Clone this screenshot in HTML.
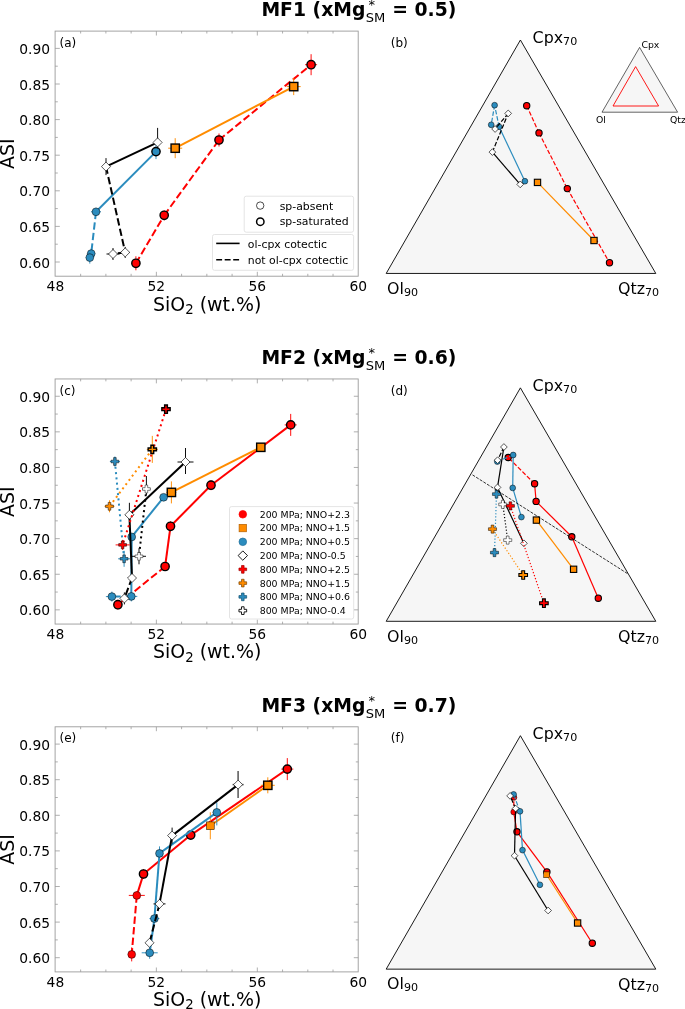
<!DOCTYPE html>
<html lang="en"><head><meta charset="utf-8"><title>MF1-MF3 ASI vs SiO2 and ternary projections</title>
<style>html,body{margin:0;padding:0;background:#fff}svg{display:block;will-change:transform}text{filter:grayscale(1)}text{font-family:"DejaVu Sans","Liberation Sans",sans-serif}</style>
</head><body>
<svg width="685" height="1009" viewBox="0 0 685 1009">
<rect width="685" height="1009" fill="#fff"/>
<g font-size="18.8" font-weight="bold" fill="#000">
<text x="365.4" y="16.3" text-anchor="end">MF1 (xMg</text>
<text x="456.3" y="16.3" text-anchor="end">= 0.5)</text>
</g>
<text x="365.7" y="22.1" font-size="13.07" fill="#000">SM</text>
<text x="368.6" y="9.1" font-size="13.07" fill="#000">*</text>
<rect x="55.1" y="31.1" width="303.1" height="245.1" fill="#fff" stroke="#9a9a9a" stroke-width="0.9"/>
<path d="M80.64 276.2v-2.4M80.64 31.1v2.4M105.88 276.2v-2.4M105.88 31.1v2.4M131.12 276.2v-2.4M131.12 31.1v2.4M156.36 276.2v-4.4M156.36 31.1v4.4M181.6 276.2v-2.4M181.6 31.1v2.4M206.84 276.2v-2.4M206.84 31.1v2.4M232.08 276.2v-2.4M232.08 31.1v2.4M257.32 276.2v-4.4M257.32 31.1v4.4M282.56 276.2v-2.4M282.56 31.1v2.4M307.8 276.2v-2.4M307.8 31.1v2.4M333.04 276.2v-2.4M333.04 31.1v2.4M55.1 262h4.7M55.1 244.2h2.6999999999999997M55.1 226.4h4.7M55.1 208.6h2.6999999999999997M55.1 190.8h4.7M55.1 173h2.6999999999999997M55.1 155.2h4.7M55.1 137.4h2.6999999999999997M55.1 119.6h4.7M55.1 101.8h2.6999999999999997M55.1 84h4.7M55.1 66.2h2.6999999999999997M55.1 48.4h4.7" stroke="#9a9a9a" stroke-width="0.8" fill="none"/>
<g font-size="13.85" fill="#000">
<text x="55.4" y="291.4" text-anchor="middle">48</text>
<text x="156.36" y="291.4" text-anchor="middle">52</text>
<text x="257.32" y="291.4" text-anchor="middle">56</text>
<text x="358.28" y="291.4" text-anchor="middle">60</text>
<text x="50.1" y="267.5" text-anchor="end">0.60</text>
<text x="50.1" y="231.9" text-anchor="end">0.65</text>
<text x="50.1" y="196.3" text-anchor="end">0.70</text>
<text x="50.1" y="160.7" text-anchor="end">0.75</text>
<text x="50.1" y="125.1" text-anchor="end">0.80</text>
<text x="50.1" y="89.5" text-anchor="end">0.85</text>
<text x="50.1" y="53.9" text-anchor="end">0.90</text>
</g>
<text x="207.2" y="310.5" font-size="18.95" text-anchor="middle" fill="#000">SiO<tspan font-size="13.27" dy="3.2">2</tspan><tspan dy="-3.2"> (wt.%)</tspan></text>
<text transform="translate(14.3 153.75) rotate(-90)" font-size="18.95" text-anchor="middle" fill="#000">ASI</text>
<text x="59.5" y="46.7" font-size="12" fill="#000">(a)</text>
<g id="pa">
<path d="M135.9 263.3L164.2 215.3" fill="none" stroke="#ff0000" stroke-width="2.0" stroke-dasharray="7.4 3.2"/><path d="M164.2 215.3L219 140" fill="none" stroke="#ff0000" stroke-width="2.0" stroke-dasharray="7.4 3.2"/><path d="M219 140L311.1 64.7" fill="none" stroke="#ff0000" stroke-width="2.0" stroke-dasharray="7.4 3.2"/><path d="M132.9 263.3H138.9" stroke="#ff0000" stroke-width="0.95"/><path d="M135.9 256.3V270.3" stroke="#ff0000" stroke-width="0.95"/><path d="M161.2 215.3H167.2" stroke="#ff0000" stroke-width="0.95"/><path d="M164.2 210.3V220.3" stroke="#ff0000" stroke-width="0.95"/><path d="M216 140H222" stroke="#ff0000" stroke-width="0.95"/><path d="M219 133.5V146.5" stroke="#ff0000" stroke-width="0.95"/><path d="M305.1 64.7H317.1" stroke="#ff0000" stroke-width="0.95"/><path d="M311.1 54.2V75.2" stroke="#ff0000" stroke-width="0.95"/><circle cx="135.9" cy="263.3" r="4.15" fill="#ff0000" stroke="#000000" stroke-width="1.4"/><circle cx="164.2" cy="215.3" r="4.15" fill="#ff0000" stroke="#000000" stroke-width="1.4"/><circle cx="219" cy="140" r="4.15" fill="#ff0000" stroke="#000000" stroke-width="1.4"/><circle cx="311.1" cy="64.7" r="4.15" fill="#ff0000" stroke="#000000" stroke-width="1.4"/>
<path d="M175.2 148.2L293.7 86.6" fill="none" stroke="#ff8c00" stroke-width="2.0"/><path d="M168.2 148.2H182.2" stroke="#ff8c00" stroke-width="0.95"/><path d="M175.2 138.2V158.2" stroke="#ff8c00" stroke-width="0.95"/><path d="M286.7 86.6H300.7" stroke="#ff8c00" stroke-width="0.95"/><path d="M293.7 78.1V95.1" stroke="#ff8c00" stroke-width="0.95"/><rect x="171.05" y="144.05" width="8.3" height="8.3" fill="#ff8c00" stroke="#000000" stroke-width="1.4"/><rect x="289.55" y="82.45" width="8.3" height="8.3" fill="#ff8c00" stroke="#000000" stroke-width="1.4"/>
<path d="M156 151.6L96 211.8" fill="none" stroke="#2b8cbe" stroke-width="2.0"/><path d="M96 211.8L91.2 253.6" fill="none" stroke="#2b8cbe" stroke-width="2.0" stroke-dasharray="7.4 3.2"/><path d="M91.2 253.6L89.8 257.6" fill="none" stroke="#2b8cbe" stroke-width="2.0" stroke-dasharray="7.4 3.2"/><path d="M156 144.1V159.1" stroke="#2b8cbe" stroke-width="0.95"/><path d="M91 211.8H101" stroke="#2b8cbe" stroke-width="0.95"/><path d="M96 207.8V215.8" stroke="#2b8cbe" stroke-width="0.95"/><path d="M87.2 253.6H95.2" stroke="#2b8cbe" stroke-width="0.95"/><path d="M91.2 248.6V258.6" stroke="#2b8cbe" stroke-width="0.95"/><path d="M85.8 257.6H93.8" stroke="#2b8cbe" stroke-width="0.95"/><path d="M89.8 251.6V263.6" stroke="#2b8cbe" stroke-width="0.95"/><circle cx="156" cy="151.6" r="4.15" fill="#2b8cbe" stroke="#000000" stroke-width="1.4"/><circle cx="96" cy="211.8" r="3.9" fill="#2b8cbe" stroke="#000000" stroke-width="0.5"/><circle cx="91.2" cy="253.6" r="3.9" fill="#2b8cbe" stroke="#000000" stroke-width="0.5"/><circle cx="89.8" cy="257.6" r="3.9" fill="#2b8cbe" stroke="#000000" stroke-width="0.5"/>
<path d="M157.6 142.4L106 166.6" fill="none" stroke="#000000" stroke-width="2.0"/><path d="M106 166.6L125.2 252.4" fill="none" stroke="#000000" stroke-width="2.0" stroke-dasharray="7.4 3.2"/><path d="M125.2 252.4L113 254" fill="none" stroke="#000000" stroke-width="2.0" stroke-dasharray="7.4 3.2"/><path d="M157.6 127.9V148.4" stroke="#000000" stroke-width="0.95"/><path d="M106 158.1V175.1" stroke="#000000" stroke-width="0.95"/><path d="M120.7 252.4H129.7" stroke="#000000" stroke-width="0.95"/><path d="M125.2 246.9V257.9" stroke="#000000" stroke-width="0.95"/><path d="M106.5 254H119.5" stroke="#000000" stroke-width="0.95"/><path d="M113 248V260" stroke="#000000" stroke-width="0.95"/><path d="M157.6 137.88L162.12 142.4L157.6 146.92L153.08 142.4Z" fill="#ffffff" stroke="#000000" stroke-width="0.65" stroke-linejoin="miter"/><path d="M106 162.08L110.52 166.6L106 171.12L101.48 166.6Z" fill="#ffffff" stroke="#000000" stroke-width="0.65" stroke-linejoin="miter"/><path d="M125.2 247.88L129.72 252.4L125.2 256.92L120.68 252.4Z" fill="#ffffff" stroke="#000000" stroke-width="0.65" stroke-linejoin="miter"/><path d="M113 249.48L117.52 254L113 258.52L108.48 254Z" fill="#ffffff" stroke="#000000" stroke-width="0.65" stroke-linejoin="miter"/>
</g>
<g id="lega" font-size="10.88" fill="#000">
<rect x="244.2" y="196.2" width="109.4" height="36" rx="2" fill="#fff" fill-opacity="0.8" stroke="#ddd" stroke-width="0.8"/>
<circle cx="260.2" cy="205.6" r="3.7" fill="#fff" stroke="#000" stroke-width="0.7"/>
<circle cx="260.3" cy="221.7" r="3.7" fill="#fff" stroke="#000" stroke-width="1.5"/>
<text x="279.7" y="209.5">sp-absent</text>
<text x="279.7" y="225.4">sp-saturated</text>
<rect x="212.5" y="234.5" width="141.1" height="35.8" rx="2" fill="#fff" fill-opacity="0.8" stroke="#ddd" stroke-width="0.8"/>
<path d="M216.2 243.4H239.6" stroke="#000" stroke-width="1.6"/>
<path d="M216.2 259.7H239.6" stroke="#000" stroke-width="1.6" stroke-dasharray="5.9 2.6"/>
<text x="247.8" y="247.5">ol-cpx cotectic</text>
<text x="247.8" y="263.5">not ol-cpx cotectic</text>
</g>
<path d="M386.2 273.45L520.4 40L655.8 273.45Z" fill="#f6f6f6" stroke="#000" stroke-width="0.9" stroke-linejoin="miter"/>
<text x="390.8" y="46.7" font-size="12" fill="#000">(b)</text>
<g font-size="15.85" fill="#000">
<text x="532.6" y="43.2">Cpx<tspan font-size="11.1" dy="2.1">70</tspan></text>
<text x="387.0" y="293.7">Ol<tspan font-size="11.1" dy="2.0">90</tspan></text>
<text x="618.0" y="293.8">Qtz<tspan font-size="11.1" dy="2.0">70</tspan></text>
</g>
<g id="inset">
<path d="M602 112.2L639.6 47.4L677.6 112.2Z" fill="#f6f6f6" stroke="#222" stroke-width="0.7"/>
<path d="M613 106L635.6 66.6L658.6 106Z" fill="none" stroke="#f00" stroke-width="0.9"/>
<g font-size="9.3" fill="#000"><text x="641.4" y="48">Cpx</text><text x="596" y="123">Ol</text><text x="670" y="123">Qtz</text></g>
</g>
<g id="pb">
<path d="M526.7 105.7L539 132.9" fill="none" stroke="#ff0000" stroke-width="1.2" stroke-dasharray="4.44 1.92"/><path d="M539 132.9L567.3 188.6" fill="none" stroke="#ff0000" stroke-width="1.2" stroke-dasharray="4.44 1.92"/><path d="M567.3 188.6L609.5 262.7" fill="none" stroke="#ff0000" stroke-width="1.2" stroke-dasharray="4.44 1.92"/><circle cx="526.7" cy="105.7" r="3.15" fill="#ff0000" stroke="#000000" stroke-width="1.1"/><circle cx="539" cy="132.9" r="3.15" fill="#ff0000" stroke="#000000" stroke-width="1.1"/><circle cx="567.3" cy="188.6" r="3.15" fill="#ff0000" stroke="#000000" stroke-width="1.1"/><circle cx="609.5" cy="262.7" r="3.15" fill="#ff0000" stroke="#000000" stroke-width="1.1"/>
<path d="M537.5 182.4L594 240.5" fill="none" stroke="#ff8c00" stroke-width="1.2"/><rect x="534.35" y="179.25" width="6.3" height="6.3" fill="#ff8c00" stroke="#000000" stroke-width="1.1"/><rect x="590.85" y="237.35" width="6.3" height="6.3" fill="#ff8c00" stroke="#000000" stroke-width="1.1"/>
<path d="M524.9 181.2L499.1 126.8" fill="none" stroke="#2b8cbe" stroke-width="1.2"/><path d="M499.1 126.8L494.6 105.2" fill="none" stroke="#2b8cbe" stroke-width="1.2" stroke-dasharray="4.44 1.92"/><path d="M494.6 105.2L491.2 124.8" fill="none" stroke="#2b8cbe" stroke-width="1.2" stroke-dasharray="4.44 1.92"/><circle cx="524.9" cy="181.2" r="2.9" fill="#2b8cbe" stroke="#000000" stroke-width="0.5"/><circle cx="499.1" cy="126.8" r="2.9" fill="#2b8cbe" stroke="#000000" stroke-width="0.5"/><circle cx="494.6" cy="105.2" r="2.9" fill="#2b8cbe" stroke="#000000" stroke-width="0.5"/><circle cx="491.2" cy="124.8" r="2.9" fill="#2b8cbe" stroke="#000000" stroke-width="0.5"/>
<path d="M520.2 184.4L492.4 152.1" fill="none" stroke="#000000" stroke-width="1.2"/><path d="M492.4 152.1L508.2 113.4" fill="none" stroke="#000000" stroke-width="1.2" stroke-dasharray="4.44 1.92"/><path d="M508.2 113.4L495.1 129" fill="none" stroke="#000000" stroke-width="1.2" stroke-dasharray="4.44 1.92"/><path d="M520.2 181.04L523.56 184.4L520.2 187.76L516.84 184.4Z" fill="#ffffff" stroke="#000000" stroke-width="0.65" stroke-linejoin="miter"/><path d="M492.4 148.74L495.76 152.1L492.4 155.46L489.04 152.1Z" fill="#ffffff" stroke="#000000" stroke-width="0.65" stroke-linejoin="miter"/><path d="M508.2 110.04L511.56 113.4L508.2 116.76L504.84 113.4Z" fill="#ffffff" stroke="#000000" stroke-width="0.65" stroke-linejoin="miter"/><path d="M495.1 125.64L498.46 129L495.1 132.36L491.74 129Z" fill="#ffffff" stroke="#000000" stroke-width="0.65" stroke-linejoin="miter"/>
</g>
<g font-size="18.8" font-weight="bold" fill="#000">
<text x="365.4" y="364.15" text-anchor="end">MF2 (xMg</text>
<text x="456.3" y="364.15" text-anchor="end">= 0.6)</text>
</g>
<text x="365.7" y="369.95" font-size="13.07" fill="#000">SM</text>
<text x="368.6" y="356.95" font-size="13.07" fill="#000">*</text>
<rect x="55.1" y="378.95" width="303.1" height="245.1" fill="#fff" stroke="#9a9a9a" stroke-width="0.9"/>
<path d="M80.64 624.05v-2.4M80.64 378.95v2.4M105.88 624.05v-2.4M105.88 378.95v2.4M131.12 624.05v-2.4M131.12 378.95v2.4M156.36 624.05v-4.4M156.36 378.95v4.4M181.6 624.05v-2.4M181.6 378.95v2.4M206.84 624.05v-2.4M206.84 378.95v2.4M232.08 624.05v-2.4M232.08 378.95v2.4M257.32 624.05v-4.4M257.32 378.95v4.4M282.56 624.05v-2.4M282.56 378.95v2.4M307.8 624.05v-2.4M307.8 378.95v2.4M333.04 624.05v-2.4M333.04 378.95v2.4M55.1 609.85h4.7M358.2 609.85h-4.4M55.1 592.05h2.6999999999999997M358.2 592.05h-2.4M55.1 574.25h4.7M358.2 574.25h-4.4M55.1 556.45h2.6999999999999997M358.2 556.45h-2.4M55.1 538.65h4.7M358.2 538.65h-4.4M55.1 520.85h2.6999999999999997M358.2 520.85h-2.4M55.1 503.05h4.7M358.2 503.05h-4.4M55.1 485.25h2.6999999999999997M358.2 485.25h-2.4M55.1 467.45h4.7M358.2 467.45h-4.4M55.1 449.65h2.6999999999999997M358.2 449.65h-2.4M55.1 431.85h4.7M358.2 431.85h-4.4M55.1 414.05h2.6999999999999997M358.2 414.05h-2.4M55.1 396.25h4.7M358.2 396.25h-4.4" stroke="#9a9a9a" stroke-width="0.8" fill="none"/>
<g font-size="13.85" fill="#000">
<text x="55.4" y="639.25" text-anchor="middle">48</text>
<text x="156.36" y="639.25" text-anchor="middle">52</text>
<text x="257.32" y="639.25" text-anchor="middle">56</text>
<text x="358.28" y="639.25" text-anchor="middle">60</text>
<text x="50.1" y="615.35" text-anchor="end">0.60</text>
<text x="50.1" y="579.75" text-anchor="end">0.65</text>
<text x="50.1" y="544.15" text-anchor="end">0.70</text>
<text x="50.1" y="508.55" text-anchor="end">0.75</text>
<text x="50.1" y="472.95" text-anchor="end">0.80</text>
<text x="50.1" y="437.35" text-anchor="end">0.85</text>
<text x="50.1" y="401.75" text-anchor="end">0.90</text>
</g>
<text x="207.2" y="658.35" font-size="18.95" text-anchor="middle" fill="#000">SiO<tspan font-size="13.27" dy="3.2">2</tspan><tspan dy="-3.2"> (wt.%)</tspan></text>
<text transform="translate(14.3 501.6) rotate(-90)" font-size="18.95" text-anchor="middle" fill="#000">ASI</text>
<text x="59.5" y="394.55" font-size="12" fill="#000">(c)</text>
<g id="pc">
<path d="M290.7 424.9L211 485.2" fill="none" stroke="#ff0000" stroke-width="2.0"/><path d="M211 485.2L170.5 526.3" fill="none" stroke="#ff0000" stroke-width="2.0"/><path d="M170.5 526.3L165.1 566.5" fill="none" stroke="#ff0000" stroke-width="2.0"/><path d="M165.1 566.5L117.9 604.7" fill="none" stroke="#ff0000" stroke-width="2.0" stroke-dasharray="7.4 3.2"/><path d="M284.7 424.9H296.7" stroke="#ff0000" stroke-width="0.95"/><path d="M290.7 413.9V435.9" stroke="#ff0000" stroke-width="0.95"/><path d="M208 485.2H214" stroke="#ff0000" stroke-width="0.95"/><path d="M211 480.2V490.2" stroke="#ff0000" stroke-width="0.95"/><path d="M167.5 526.3H173.5" stroke="#ff0000" stroke-width="0.95"/><path d="M170.5 521.3V531.3" stroke="#ff0000" stroke-width="0.95"/><path d="M162.1 566.5H168.1" stroke="#ff0000" stroke-width="0.95"/><path d="M165.1 562.5V570.5" stroke="#ff0000" stroke-width="0.95"/><path d="M114.9 604.7H120.9" stroke="#ff0000" stroke-width="0.95"/><path d="M117.9 599.7V609.7" stroke="#ff0000" stroke-width="0.95"/><circle cx="290.7" cy="424.9" r="4.15" fill="#ff0000" stroke="#000000" stroke-width="1.4"/><circle cx="211" cy="485.2" r="4.15" fill="#ff0000" stroke="#000000" stroke-width="1.4"/><circle cx="170.5" cy="526.3" r="4.15" fill="#ff0000" stroke="#000000" stroke-width="1.4"/><circle cx="165.1" cy="566.5" r="4.15" fill="#ff0000" stroke="#000000" stroke-width="1.4"/><circle cx="117.9" cy="604.7" r="4.15" fill="#ff0000" stroke="#000000" stroke-width="1.4"/>
<path d="M260.8 447.3L171.4 492.4" fill="none" stroke="#ff8c00" stroke-width="2.0"/><path d="M256.8 447.3H264.8" stroke="#ff8c00" stroke-width="0.95"/><path d="M260.8 443.3V451.3" stroke="#ff8c00" stroke-width="0.95"/><path d="M166.4 492.4H176.4" stroke="#ff8c00" stroke-width="0.95"/><path d="M171.4 481.4V503.4" stroke="#ff8c00" stroke-width="0.95"/><rect x="256.65" y="443.15" width="8.3" height="8.3" fill="#ff8c00" stroke="#000000" stroke-width="1.4"/><rect x="167.25" y="488.25" width="8.3" height="8.3" fill="#ff8c00" stroke="#000000" stroke-width="1.4"/>
<path d="M163.6 497.3L131.7 536.9" fill="none" stroke="#2b8cbe" stroke-width="2.0"/><path d="M131.7 536.9L131.3 596.4" fill="none" stroke="#2b8cbe" stroke-width="2.0"/><path d="M131.3 596.4L111.9 596.6" fill="none" stroke="#2b8cbe" stroke-width="2.0" stroke-dasharray="7.4 3.2"/><path d="M160.6 497.3H166.6" stroke="#2b8cbe" stroke-width="0.95"/><path d="M163.6 494.3V500.3" stroke="#2b8cbe" stroke-width="0.95"/><path d="M128.7 536.9H134.7" stroke="#2b8cbe" stroke-width="0.95"/><path d="M131.7 533.9V539.9" stroke="#2b8cbe" stroke-width="0.95"/><path d="M125.3 596.4H137.3" stroke="#2b8cbe" stroke-width="0.95"/><path d="M131.3 591.4V601.4" stroke="#2b8cbe" stroke-width="0.95"/><path d="M105.9 596.6H117.9" stroke="#2b8cbe" stroke-width="0.95"/><path d="M111.9 591.6V601.6" stroke="#2b8cbe" stroke-width="0.95"/><circle cx="163.6" cy="497.3" r="3.9" fill="#2b8cbe" stroke="#000000" stroke-width="0.5"/><circle cx="131.7" cy="536.9" r="3.9" fill="#2b8cbe" stroke="#000000" stroke-width="0.5"/><circle cx="131.3" cy="596.4" r="3.9" fill="#2b8cbe" stroke="#000000" stroke-width="0.5"/><circle cx="111.9" cy="596.6" r="3.9" fill="#2b8cbe" stroke="#000000" stroke-width="0.5"/>
<path d="M185.5 462L129.4 514.8" fill="none" stroke="#000000" stroke-width="2.0"/><path d="M129.4 514.8L132 578" fill="none" stroke="#000000" stroke-width="2.0"/><path d="M132 578L124.4 598.4" fill="none" stroke="#000000" stroke-width="2.0" stroke-dasharray="7.4 3.2"/><path d="M177.5 462H193.5" stroke="#000000" stroke-width="0.95"/><path d="M185.5 448V474" stroke="#000000" stroke-width="0.95"/><path d="M125.4 514.8H133.4" stroke="#000000" stroke-width="0.95"/><path d="M129.4 502.8V519.8" stroke="#000000" stroke-width="0.95"/><path d="M129 578H135" stroke="#000000" stroke-width="0.95"/><path d="M132 575V581" stroke="#000000" stroke-width="0.95"/><path d="M120.4 598.4H128.4" stroke="#000000" stroke-width="0.95"/><path d="M124.4 592.4V604.4" stroke="#000000" stroke-width="0.95"/><path d="M185.5 457.48L190.02 462L185.5 466.52L180.98 462Z" fill="#ffffff" stroke="#000000" stroke-width="0.65" stroke-linejoin="miter"/><path d="M129.4 510.28L133.92 514.8L129.4 519.32L124.88 514.8Z" fill="#ffffff" stroke="#000000" stroke-width="0.65" stroke-linejoin="miter"/><path d="M132 573.48L136.52 578L132 582.52L127.48 578Z" fill="#ffffff" stroke="#000000" stroke-width="0.65" stroke-linejoin="miter"/><path d="M124.4 593.88L128.92 598.4L124.4 602.92L119.88 598.4Z" fill="#ffffff" stroke="#000000" stroke-width="0.65" stroke-linejoin="miter"/>
<path d="M114.9 461.5L124.1 558.8" fill="none" stroke="#2b8cbe" stroke-width="2.0" stroke-dasharray="2 3.3"/><path d="M146.4 489L139 556.3" fill="none" stroke="#000000" stroke-width="2.0" stroke-dasharray="2 3.3"/><path d="M166 409.2L122.6 544.9" fill="none" stroke="#ff0000" stroke-width="2.0" stroke-dasharray="2 3.3"/><path d="M152.3 449.4L109.5 506.3" fill="none" stroke="#ff8c00" stroke-width="2.0" stroke-dasharray="2 3.3"/><path d="M109.9 461.5H119.9" stroke="#2b8cbe" stroke-width="0.95"/><path d="M114.9 456.5V466.5" stroke="#2b8cbe" stroke-width="0.95"/><path d="M118.1 558.8H130.1" stroke="#2b8cbe" stroke-width="0.95"/><path d="M124.1 550.8V566.8" stroke="#2b8cbe" stroke-width="0.95"/><path d="M113.6 457.6L116.2 457.6L116.2 460.2L118.8 460.2L118.8 462.8L116.2 462.8L116.2 465.4L113.6 465.4L113.6 462.8L111 462.8L111 460.2L113.6 460.2Z" fill="#2b8cbe" stroke="#000000" stroke-width="0.5" stroke-linejoin="miter"/><path d="M122.8 554.9L125.4 554.9L125.4 557.5L128 557.5L128 560.1L125.4 560.1L125.4 562.7L122.8 562.7L122.8 560.1L120.2 560.1L120.2 557.5L122.8 557.5Z" fill="#2b8cbe" stroke="#000000" stroke-width="0.5" stroke-linejoin="miter"/><path d="M142.4 489H150.4" stroke="#000000" stroke-width="0.95"/><path d="M146.4 476V495" stroke="#000000" stroke-width="0.95"/><path d="M132 556.3H146" stroke="#000000" stroke-width="0.95"/><path d="M139 548.3V564.3" stroke="#000000" stroke-width="0.95"/><path d="M145.1 485.1L147.7 485.1L147.7 487.7L150.3 487.7L150.3 490.3L147.7 490.3L147.7 492.9L145.1 492.9L145.1 490.3L142.5 490.3L142.5 487.7L145.1 487.7Z" fill="#ffffff" stroke="#000000" stroke-width="0.5" stroke-linejoin="miter"/><path d="M137.7 552.4L140.3 552.4L140.3 555L142.9 555L142.9 557.6L140.3 557.6L140.3 560.2L137.7 560.2L137.7 557.6L135.1 557.6L135.1 555L137.7 555Z" fill="#ffffff" stroke="#000000" stroke-width="0.5" stroke-linejoin="miter"/><path d="M162 409.2H170" stroke="#ff0000" stroke-width="0.95"/><path d="M166 405.2V413.2" stroke="#ff0000" stroke-width="0.95"/><path d="M115.6 544.9H129.6" stroke="#ff0000" stroke-width="0.95"/><path d="M122.6 539.9V549.9" stroke="#ff0000" stroke-width="0.95"/><path d="M164.62 405.05L167.38 405.05L167.38 407.82L170.15 407.82L170.15 410.58L167.38 410.58L167.38 413.35L164.62 413.35L164.62 410.58L161.85 410.58L161.85 407.82L164.62 407.82Z" fill="#ff0000" stroke="#000000" stroke-width="1.4" stroke-linejoin="miter"/><path d="M121.3 541L123.9 541L123.9 543.6L126.5 543.6L126.5 546.2L123.9 546.2L123.9 548.8L121.3 548.8L121.3 546.2L118.7 546.2L118.7 543.6L121.3 543.6Z" fill="#ff0000" stroke="#000000" stroke-width="0.5" stroke-linejoin="miter"/><path d="M146.8 449.4H157.8" stroke="#ff8c00" stroke-width="0.95"/><path d="M152.3 435.9V462.9" stroke="#ff8c00" stroke-width="0.95"/><path d="M104.5 506.3H114.5" stroke="#ff8c00" stroke-width="0.95"/><path d="M109.5 500.3V512.3" stroke="#ff8c00" stroke-width="0.95"/><path d="M150.92 445.25L153.68 445.25L153.68 448.02L156.45 448.02L156.45 450.78L153.68 450.78L153.68 453.55L150.92 453.55L150.92 450.78L148.15 450.78L148.15 448.02L150.92 448.02Z" fill="#ff8c00" stroke="#000000" stroke-width="1.4" stroke-linejoin="miter"/><path d="M108.2 502.4L110.8 502.4L110.8 505L113.4 505L113.4 507.6L110.8 507.6L110.8 510.2L108.2 510.2L108.2 507.6L105.6 507.6L105.6 505L108.2 505Z" fill="#ff8c00" stroke="#000000" stroke-width="0.5" stroke-linejoin="miter"/>
</g>
<g id="legc" font-size="9.4" fill="#000">
<rect x="229.5" y="506.6" width="124.2" height="112.4" rx="2" fill="#fff" fill-opacity="0.8" stroke="#ddd" stroke-width="0.8"/>
<circle cx="242.8" cy="514.3" r="3.8" fill="#ff0000" stroke="#ff0000" stroke-width="0.7"/>
<text x="259.7" y="517.7">200 MPa; NNO+2.3</text>
<rect x="239.1" y="524.36" width="7.4" height="7.4" fill="#ff8c00" stroke="#b35f00" stroke-width="0.7"/>
<text x="259.7" y="531.46">200 MPa; NNO+1.5</text>
<circle cx="242.8" cy="541.82" r="3.8" fill="#2b8cbe" stroke="#1f6f99" stroke-width="0.7"/>
<text x="259.7" y="545.22">200 MPa; NNO+0.5</text>
<path d="M242.8 550.88L247.5 555.58L242.8 560.28L238.1 555.58Z" fill="#ffffff" stroke="#000000" stroke-width="0.9" stroke-linejoin="miter"/>
<text x="259.7" y="558.98">200 MPa; NNO-0.5</text>
<path d="M241.52 565.49L244.08 565.49L244.08 568.06L246.65 568.06L246.65 570.62L244.08 570.62L244.08 573.19L241.52 573.19L241.52 570.62L238.95 570.62L238.95 568.06L241.52 568.06Z" fill="#ff0000" stroke="#a00000" stroke-width="0.7" stroke-linejoin="miter"/>
<text x="259.7" y="572.74">800 MPa; NNO+2.5</text>
<path d="M241.52 579.25L244.08 579.25L244.08 581.82L246.65 581.82L246.65 584.38L244.08 584.38L244.08 586.95L241.52 586.95L241.52 584.38L238.95 584.38L238.95 581.82L241.52 581.82Z" fill="#ff8c00" stroke="#7a4300" stroke-width="0.7" stroke-linejoin="miter"/>
<text x="259.7" y="586.5">800 MPa; NNO+1.5</text>
<path d="M241.52 593.01L244.08 593.01L244.08 595.58L246.65 595.58L246.65 598.14L244.08 598.14L244.08 600.71L241.52 600.71L241.52 598.14L238.95 598.14L238.95 595.58L241.52 595.58Z" fill="#2b8cbe" stroke="#14506e" stroke-width="0.7" stroke-linejoin="miter"/>
<text x="259.7" y="600.26">800 MPa; NNO+0.6</text>
<path d="M241.52 606.77L244.08 606.77L244.08 609.34L246.65 609.34L246.65 611.9L244.08 611.9L244.08 614.47L241.52 614.47L241.52 611.9L238.95 611.9L238.95 609.34L241.52 609.34Z" fill="#ffffff" stroke="#000000" stroke-width="0.9" stroke-linejoin="miter"/>
<text x="259.7" y="614.02">800 MPa; NNO-0.4</text>
</g>
<path d="M386.2 621.3L520.4 387.85L655.8 621.3Z" fill="#f6f6f6" stroke="#000" stroke-width="0.9" stroke-linejoin="miter"/>
<text x="390.8" y="394.55" font-size="12" fill="#000">(d)</text>
<g font-size="15.85" fill="#000">
<text x="532.6" y="391.05">Cpx<tspan font-size="11.1" dy="2.1">70</tspan></text>
<text x="387.0" y="641.55">Ol<tspan font-size="11.1" dy="2.0">90</tspan></text>
<text x="618.0" y="641.65">Qtz<tspan font-size="11.1" dy="2.0">70</tspan></text>
</g>
<g id="pd">
<path d="M598.3 598.2L571.8 536.8" fill="none" stroke="#ff0000" stroke-width="1.2"/><path d="M571.8 536.8L536.1 501.4" fill="none" stroke="#ff0000" stroke-width="1.2"/><path d="M536.1 501.4L534.6 483.7" fill="none" stroke="#ff0000" stroke-width="1.2"/><path d="M534.6 483.7L508.2 457.5" fill="none" stroke="#ff0000" stroke-width="1.2" stroke-dasharray="4.44 1.92"/><circle cx="598.3" cy="598.2" r="3.15" fill="#ff0000" stroke="#000000" stroke-width="1.1"/><circle cx="571.8" cy="536.8" r="3.15" fill="#ff0000" stroke="#000000" stroke-width="1.1"/><circle cx="536.1" cy="501.4" r="3.15" fill="#ff0000" stroke="#000000" stroke-width="1.1"/><circle cx="534.6" cy="483.7" r="3.15" fill="#ff0000" stroke="#000000" stroke-width="1.1"/><circle cx="508.2" cy="457.5" r="3.15" fill="#ff0000" stroke="#000000" stroke-width="1.1"/>
<path d="M573.6 569.3L536.4 520.1" fill="none" stroke="#ff8c00" stroke-width="1.2"/><rect x="570.45" y="566.15" width="6.3" height="6.3" fill="#ff8c00" stroke="#000000" stroke-width="1.1"/><rect x="533.25" y="516.95" width="6.3" height="6.3" fill="#ff8c00" stroke="#000000" stroke-width="1.1"/>
<path d="M521.4 517.1L512.7 487.9" fill="none" stroke="#2b8cbe" stroke-width="1.2"/><path d="M512.7 487.9L513.2 455" fill="none" stroke="#2b8cbe" stroke-width="1.2"/><path d="M513.2 455L497.3 461.6" fill="none" stroke="#2b8cbe" stroke-width="1.2" stroke-dasharray="4.44 1.92"/><circle cx="521.4" cy="517.1" r="2.9" fill="#2b8cbe" stroke="#000000" stroke-width="0.5"/><circle cx="512.7" cy="487.9" r="2.9" fill="#2b8cbe" stroke="#000000" stroke-width="0.5"/><circle cx="513.2" cy="455" r="2.9" fill="#2b8cbe" stroke="#000000" stroke-width="0.5"/><circle cx="497.3" cy="461.6" r="2.9" fill="#2b8cbe" stroke="#000000" stroke-width="0.5"/>
<path d="M523.9 543.3L497.5 487.4" fill="none" stroke="#000000" stroke-width="1.2"/><path d="M497.5 487.4L503.9 447" fill="none" stroke="#000000" stroke-width="1.2"/><path d="M503.9 447L497.6 460.2" fill="none" stroke="#000000" stroke-width="1.2" stroke-dasharray="4.44 1.92"/><path d="M523.9 539.94L527.26 543.3L523.9 546.66L520.54 543.3Z" fill="#ffffff" stroke="#000000" stroke-width="0.65" stroke-linejoin="miter"/><path d="M497.5 484.04L500.86 487.4L497.5 490.76L494.14 487.4Z" fill="#ffffff" stroke="#000000" stroke-width="0.65" stroke-linejoin="miter"/><path d="M503.9 443.64L507.26 447L503.9 450.36L500.54 447Z" fill="#ffffff" stroke="#000000" stroke-width="0.65" stroke-linejoin="miter"/><path d="M497.6 456.84L500.96 460.2L497.6 463.56L494.24 460.2Z" fill="#ffffff" stroke="#000000" stroke-width="0.65" stroke-linejoin="miter"/>
<path d="M496.5 494.1L494.5 552.6" fill="none" stroke="#2b8cbe" stroke-width="1.2" stroke-dasharray="1.2 1.98"/><path d="M502.8 504.4L507.7 540.1" fill="none" stroke="#000000" stroke-width="1.2" stroke-dasharray="1.2 1.98"/><path d="M510.4 505.9L543.9 603.2" fill="none" stroke="#ff0000" stroke-width="1.2" stroke-dasharray="1.2 1.98"/><path d="M492.5 529.1L523.2 575" fill="none" stroke="#ff8c00" stroke-width="1.2" stroke-dasharray="1.2 1.98"/><path d="M495.15 490.05L497.85 490.05L497.85 492.75L500.55 492.75L500.55 495.45L497.85 495.45L497.85 498.15L495.15 498.15L495.15 495.45L492.45 495.45L492.45 492.75L495.15 492.75Z" fill="#2b8cbe" stroke="#000000" stroke-width="0.5" stroke-linejoin="miter"/><path d="M493.15 548.55L495.85 548.55L495.85 551.25L498.55 551.25L498.55 553.95L495.85 553.95L495.85 556.65L493.15 556.65L493.15 553.95L490.45 553.95L490.45 551.25L493.15 551.25Z" fill="#2b8cbe" stroke="#000000" stroke-width="0.5" stroke-linejoin="miter"/><path d="M501.45 500.35L504.15 500.35L504.15 503.05L506.85 503.05L506.85 505.75L504.15 505.75L504.15 508.45L501.45 508.45L501.45 505.75L498.75 505.75L498.75 503.05L501.45 503.05Z" fill="#ffffff" stroke="#000000" stroke-width="0.5" stroke-linejoin="miter"/><path d="M506.35 536.05L509.05 536.05L509.05 538.75L511.75 538.75L511.75 541.45L509.05 541.45L509.05 544.15L506.35 544.15L506.35 541.45L503.65 541.45L503.65 538.75L506.35 538.75Z" fill="#ffffff" stroke="#000000" stroke-width="0.5" stroke-linejoin="miter"/><path d="M509.05 501.85L511.75 501.85L511.75 504.55L514.45 504.55L514.45 507.25L511.75 507.25L511.75 509.95L509.05 509.95L509.05 507.25L506.35 507.25L506.35 504.55L509.05 504.55Z" fill="#ff0000" stroke="#000000" stroke-width="0.5" stroke-linejoin="miter"/><path d="M542.47 598.9L545.33 598.9L545.33 601.77L548.2 601.77L548.2 604.63L545.33 604.63L545.33 607.5L542.47 607.5L542.47 604.63L539.6 604.63L539.6 601.77L542.47 601.77Z" fill="#ff0000" stroke="#000000" stroke-width="1.1" stroke-linejoin="miter"/><path d="M491.15 525.05L493.85 525.05L493.85 527.75L496.55 527.75L496.55 530.45L493.85 530.45L493.85 533.15L491.15 533.15L491.15 530.45L488.45 530.45L488.45 527.75L491.15 527.75Z" fill="#ff8c00" stroke="#000000" stroke-width="0.5" stroke-linejoin="miter"/><path d="M521.77 570.7L524.63 570.7L524.63 573.57L527.5 573.57L527.5 576.43L524.63 576.43L524.63 579.3L521.77 579.3L521.77 576.43L518.9 576.43L518.9 573.57L521.77 573.57Z" fill="#ff8c00" stroke="#000000" stroke-width="1.1" stroke-linejoin="miter"/>
<path d="M472.5 474.9L627.8 573.8" stroke="#000" stroke-width="0.8" stroke-dasharray="3 1.3" fill="none"/>
</g>
<g font-size="18.8" font-weight="bold" fill="#000">
<text x="365.4" y="712" text-anchor="end">MF3 (xMg</text>
<text x="456.3" y="712" text-anchor="end">= 0.7)</text>
</g>
<text x="365.7" y="717.8" font-size="13.07" fill="#000">SM</text>
<text x="368.6" y="704.8" font-size="13.07" fill="#000">*</text>
<rect x="55.1" y="726.8" width="303.1" height="245.1" fill="#fff" stroke="#9a9a9a" stroke-width="0.9"/>
<path d="M80.64 971.9v-2.4M80.64 726.8v2.4M105.88 971.9v-2.4M105.88 726.8v2.4M131.12 971.9v-2.4M131.12 726.8v2.4M156.36 971.9v-4.4M156.36 726.8v4.4M181.6 971.9v-2.4M181.6 726.8v2.4M206.84 971.9v-2.4M206.84 726.8v2.4M232.08 971.9v-2.4M232.08 726.8v2.4M257.32 971.9v-4.4M257.32 726.8v4.4M282.56 971.9v-2.4M282.56 726.8v2.4M307.8 971.9v-2.4M307.8 726.8v2.4M333.04 971.9v-2.4M333.04 726.8v2.4M55.1 957.7h4.7M358.2 957.7h-4.4M55.1 939.9h2.6999999999999997M358.2 939.9h-2.4M55.1 922.1h4.7M358.2 922.1h-4.4M55.1 904.3h2.6999999999999997M358.2 904.3h-2.4M55.1 886.5h4.7M358.2 886.5h-4.4M55.1 868.7h2.6999999999999997M358.2 868.7h-2.4M55.1 850.9h4.7M358.2 850.9h-4.4M55.1 833.1h2.6999999999999997M358.2 833.1h-2.4M55.1 815.3h4.7M358.2 815.3h-4.4M55.1 797.5h2.6999999999999997M358.2 797.5h-2.4M55.1 779.7h4.7M358.2 779.7h-4.4M55.1 761.9h2.6999999999999997M358.2 761.9h-2.4M55.1 744.1h4.7M358.2 744.1h-4.4" stroke="#9a9a9a" stroke-width="0.8" fill="none"/>
<g font-size="13.85" fill="#000">
<text x="55.4" y="987.1" text-anchor="middle">48</text>
<text x="156.36" y="987.1" text-anchor="middle">52</text>
<text x="257.32" y="987.1" text-anchor="middle">56</text>
<text x="358.28" y="987.1" text-anchor="middle">60</text>
<text x="50.1" y="963.2" text-anchor="end">0.60</text>
<text x="50.1" y="927.6" text-anchor="end">0.65</text>
<text x="50.1" y="892" text-anchor="end">0.70</text>
<text x="50.1" y="856.4" text-anchor="end">0.75</text>
<text x="50.1" y="820.8" text-anchor="end">0.80</text>
<text x="50.1" y="785.2" text-anchor="end">0.85</text>
<text x="50.1" y="749.6" text-anchor="end">0.90</text>
</g>
<text x="207.2" y="1006.2" font-size="18.95" text-anchor="middle" fill="#000">SiO<tspan font-size="13.27" dy="3.2">2</tspan><tspan dy="-3.2"> (wt.%)</tspan></text>
<text transform="translate(14.3 849.45) rotate(-90)" font-size="18.95" text-anchor="middle" fill="#000">ASI</text>
<text x="59.5" y="742.4" font-size="12" fill="#000">(e)</text>
<g id="pe">
<path d="M287.3 769.1L190.7 835.1" fill="none" stroke="#ff0000" stroke-width="2.0"/><path d="M190.7 835.1L143.5 874" fill="none" stroke="#ff0000" stroke-width="2.0"/><path d="M143.5 874L136.8 895.4" fill="none" stroke="#ff0000" stroke-width="2.0"/><path d="M136.8 895.4L131.7 954.4" fill="none" stroke="#ff0000" stroke-width="2.0" stroke-dasharray="7.4 3.2"/><path d="M281.3 769.1H293.3" stroke="#ff0000" stroke-width="0.95"/><path d="M287.3 758.1V780.1" stroke="#ff0000" stroke-width="0.95"/><path d="M187.7 835.1H193.7" stroke="#ff0000" stroke-width="0.95"/><path d="M190.7 831.1V839.1" stroke="#ff0000" stroke-width="0.95"/><path d="M140.5 874H146.5" stroke="#ff0000" stroke-width="0.95"/><path d="M143.5 869V879" stroke="#ff0000" stroke-width="0.95"/><path d="M128.8 895.4H144.8" stroke="#ff0000" stroke-width="0.95"/><path d="M136.8 891.4V899.4" stroke="#ff0000" stroke-width="0.95"/><path d="M128.7 954.4H134.7" stroke="#ff0000" stroke-width="0.95"/><path d="M131.7 947.4V961.4" stroke="#ff0000" stroke-width="0.95"/><circle cx="287.3" cy="769.1" r="4.15" fill="#ff0000" stroke="#000000" stroke-width="1.4"/><circle cx="190.7" cy="835.1" r="4.15" fill="#ff0000" stroke="#000000" stroke-width="1.4"/><circle cx="143.5" cy="874" r="4.15" fill="#ff0000" stroke="#000000" stroke-width="1.4"/><circle cx="136.8" cy="895.4" r="3.9" fill="#ff0000" stroke="#000000" stroke-width="0.5"/><circle cx="131.7" cy="954.4" r="3.9" fill="#ff0000" stroke="#000000" stroke-width="0.5"/>
<path d="M267.8 785.3L210.3 825.8" fill="none" stroke="#ff8c00" stroke-width="2.0"/><path d="M260.8 785.3H274.8" stroke="#ff8c00" stroke-width="0.95"/><path d="M267.8 777.3V793.3" stroke="#ff8c00" stroke-width="0.95"/><path d="M206.3 825.8H214.3" stroke="#ff8c00" stroke-width="0.95"/><path d="M210.3 812.3V839.3" stroke="#ff8c00" stroke-width="0.95"/><rect x="263.65" y="781.15" width="8.3" height="8.3" fill="#ff8c00" stroke="#000000" stroke-width="1.4"/><rect x="206.4" y="821.9" width="7.8" height="7.8" fill="#ff8c00" stroke="#000000" stroke-width="0.5"/>
<path d="M216.8 812.4L159.5 853.4" fill="none" stroke="#2b8cbe" stroke-width="2.0"/><path d="M159.5 853.4L154.4 918.6" fill="none" stroke="#2b8cbe" stroke-width="2.0"/><path d="M154.4 918.6L149.7 952.8" fill="none" stroke="#2b8cbe" stroke-width="2.0"/><path d="M212.8 812.4H220.8" stroke="#2b8cbe" stroke-width="0.95"/><path d="M216.8 802.4V825.4" stroke="#2b8cbe" stroke-width="0.95"/><path d="M156.5 853.4H162.5" stroke="#2b8cbe" stroke-width="0.95"/><path d="M159.5 846.4V860.4" stroke="#2b8cbe" stroke-width="0.95"/><path d="M149.4 918.6H159.4" stroke="#2b8cbe" stroke-width="0.95"/><path d="M154.4 914.6V922.6" stroke="#2b8cbe" stroke-width="0.95"/><path d="M141.7 952.8H157.7" stroke="#2b8cbe" stroke-width="0.95"/><path d="M149.7 946.8V958.8" stroke="#2b8cbe" stroke-width="0.95"/><circle cx="216.8" cy="812.4" r="3.9" fill="#2b8cbe" stroke="#000000" stroke-width="0.5"/><circle cx="159.5" cy="853.4" r="3.9" fill="#2b8cbe" stroke="#000000" stroke-width="0.5"/><circle cx="154.4" cy="918.6" r="3.9" fill="#2b8cbe" stroke="#000000" stroke-width="0.5"/><circle cx="149.7" cy="952.8" r="3.9" fill="#2b8cbe" stroke="#000000" stroke-width="0.5"/>
<path d="M238.1 784.6L172.1 835.6" fill="none" stroke="#000000" stroke-width="2.0"/><path d="M172.1 835.6L159.5 903.9" fill="none" stroke="#000000" stroke-width="2.0"/><path d="M159.5 903.9L149.5 942.8" fill="none" stroke="#000000" stroke-width="2.0" stroke-dasharray="7.4 3.2"/><path d="M232.6 784.6H243.6" stroke="#555" stroke-width="1.5"/><path d="M238.1 771.1V798.1" stroke="#555" stroke-width="1.5"/><path d="M172.1 827.6V843.6" stroke="#000000" stroke-width="0.95"/><path d="M153.5 903.9H165.5" stroke="#000000" stroke-width="0.95"/><path d="M159.5 898.9V908.9" stroke="#000000" stroke-width="0.95"/><path d="M238.1 780.08L242.62 784.6L238.1 789.12L233.58 784.6Z" fill="#ffffff" stroke="#000000" stroke-width="0.65" stroke-linejoin="miter"/><path d="M172.1 831.08L176.62 835.6L172.1 840.12L167.58 835.6Z" fill="#ffffff" stroke="#000000" stroke-width="0.65" stroke-linejoin="miter"/><path d="M159.5 899.38L164.02 903.9L159.5 908.42L154.98 903.9Z" fill="#ffffff" stroke="#000000" stroke-width="0.65" stroke-linejoin="miter"/><path d="M149.5 938.28L154.02 942.8L149.5 947.32L144.98 942.8Z" fill="#ffffff" stroke="#000000" stroke-width="0.65" stroke-linejoin="miter"/>
</g>
<path d="M386.2 969.15L520.4 735.7L655.8 969.15Z" fill="#f6f6f6" stroke="#000" stroke-width="0.9" stroke-linejoin="miter"/>
<text x="390.8" y="742.4" font-size="12" fill="#000">(f)</text>
<g font-size="15.85" fill="#000">
<text x="532.6" y="738.9">Cpx<tspan font-size="11.1" dy="2.1">70</tspan></text>
<text x="387.0" y="989.4">Ol<tspan font-size="11.1" dy="2.0">90</tspan></text>
<text x="618.0" y="989.5">Qtz<tspan font-size="11.1" dy="2.0">70</tspan></text>
</g>
<g id="pf">
<path d="M592.3 943.2L546.9 871.9" fill="none" stroke="#ff0000" stroke-width="1.2"/><path d="M546.9 871.9L517 831.8" fill="none" stroke="#ff0000" stroke-width="1.2"/><path d="M517 831.8L513.7 812" fill="none" stroke="#ff0000" stroke-width="1.2"/><path d="M513.7 812L513.9 797.4" fill="none" stroke="#ff0000" stroke-width="1.2" stroke-dasharray="4.44 1.92"/><circle cx="592.3" cy="943.2" r="3.15" fill="#ff0000" stroke="#000000" stroke-width="1.1"/><circle cx="546.9" cy="871.9" r="3.15" fill="#ff0000" stroke="#000000" stroke-width="1.1"/><circle cx="517" cy="831.8" r="3.15" fill="#ff0000" stroke="#000000" stroke-width="1.1"/><circle cx="513.7" cy="812" r="2.9" fill="#ff0000" stroke="#000000" stroke-width="0.5"/><circle cx="513.9" cy="797.4" r="2.9" fill="#ff0000" stroke="#000000" stroke-width="0.5"/>
<path d="M577.6 923L546.6 874.8" fill="none" stroke="#ff8c00" stroke-width="1.2"/><rect x="574.45" y="919.85" width="6.3" height="6.3" fill="#ff8c00" stroke="#000000" stroke-width="1.1"/><rect x="543.7" y="871.9" width="5.8" height="5.8" fill="#ff8c00" stroke="#000000" stroke-width="0.5"/>
<path d="M539.9 884.8L522.5 850.1" fill="none" stroke="#2b8cbe" stroke-width="1.2"/><path d="M522.5 850.1L520 811.3" fill="none" stroke="#2b8cbe" stroke-width="1.2"/><path d="M520 811.3L513.6 794.4" fill="none" stroke="#2b8cbe" stroke-width="1.2" stroke-dasharray="4.44 1.92"/><circle cx="539.9" cy="884.8" r="2.9" fill="#2b8cbe" stroke="#000000" stroke-width="0.5"/><circle cx="522.5" cy="850.1" r="2.9" fill="#2b8cbe" stroke="#000000" stroke-width="0.5"/><circle cx="520" cy="811.3" r="2.9" fill="#2b8cbe" stroke="#000000" stroke-width="0.5"/><circle cx="513.6" cy="794.4" r="2.9" fill="#2b8cbe" stroke="#000000" stroke-width="0.5"/>
<path d="M548.1 910.5L514.5 855.7" fill="none" stroke="#000000" stroke-width="1.2"/><path d="M514.5 855.7L515.6 808.5" fill="none" stroke="#000000" stroke-width="1.2"/><path d="M515.6 808.5L510.1 795.9" fill="none" stroke="#000000" stroke-width="1.2" stroke-dasharray="4.44 1.92"/><path d="M548.1 907.14L551.46 910.5L548.1 913.86L544.74 910.5Z" fill="#ffffff" stroke="#000000" stroke-width="0.65" stroke-linejoin="miter"/><path d="M514.5 852.34L517.86 855.7L514.5 859.06L511.14 855.7Z" fill="#ffffff" stroke="#000000" stroke-width="0.65" stroke-linejoin="miter"/><path d="M515.6 805.14L518.96 808.5L515.6 811.86L512.24 808.5Z" fill="#ffffff" stroke="#000000" stroke-width="0.65" stroke-linejoin="miter"/><path d="M510.1 792.54L513.46 795.9L510.1 799.26L506.74 795.9Z" fill="#ffffff" stroke="#000000" stroke-width="0.65" stroke-linejoin="miter"/>
</g>
</svg>
</body></html>
